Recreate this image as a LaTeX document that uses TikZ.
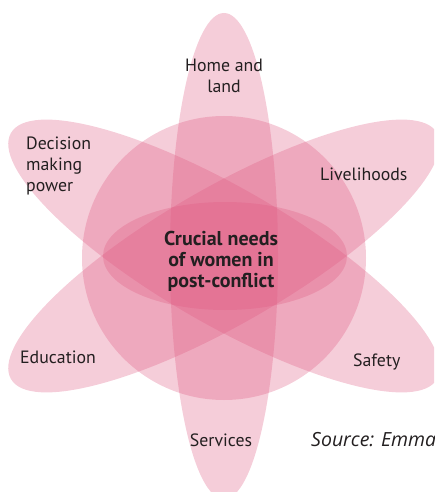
\documentclass[tikz,border=0pt]{standalone}
\usepackage{fontspec}
\setmainfont{PT Sans}
\newfontfamily\srcfont{Open Sans}
\definecolor{petalpink}{RGB}{222,88,128}
\definecolor{txt}{RGB}{35,31,32}
\begin{document}
\begin{tikzpicture}[x=1pt,y=-1pt,
  petal/.style={fill=petalpink, fill opacity=0.3, draw=none},
  lbl/.style={text=txt, font=\fontsize{17.8}{21}\selectfont, inner sep=0pt, align=center},
  lbll/.style={lbl, align=left},
  hub/.style={text=txt, font=\fontsize{20}{21}\bfseries\selectfont, inner sep=0pt, align=center}]
\useasboundingbox (0,0) rectangle (434,492);
\clip (0,0) rectangle (434,492);
\coordinate (c) at (224,256);
% big circle and central ellipse
\fill[petal] (224,258) circle [radius=142];
\fill[petal] (225,256) ellipse [x radius=122, y radius=54];
% three long petals
\fill[petal] (c) ellipse [x radius=54, y radius=243];
\fill[petal, rotate around={60:(c)}] (c) ellipse [x radius=68, y radius=246];
\fill[petal, rotate around={-60:(c)}] (c) ellipse [x radius=68, y radius=246];
% labels
\node[lbl] (home) at (224,76) {Home and\\land};
\node[lbll, anchor=west] (dec) at (26,166) {Decision\\making\\power};
\node[lbl, anchor=west] (liv) at (320,174) {Livelihoods};
\node[lbl, anchor=west] (edu) at (20,357) {Education};
\node[lbl, anchor=west] (saf) at (353,362) {Safety};
\node[lbl] (ser) at (221,440) {Services};
\node[lbl, anchor=west, font=\fontsize{19.5}{21}\srcfont\itshape\selectfont] (src) at (311,440) {Source: Emma};
\node[hub] (hubtext) at (221,261) {Crucial needs\\of women in\\post-conflict};
\end{tikzpicture}
\end{document}
